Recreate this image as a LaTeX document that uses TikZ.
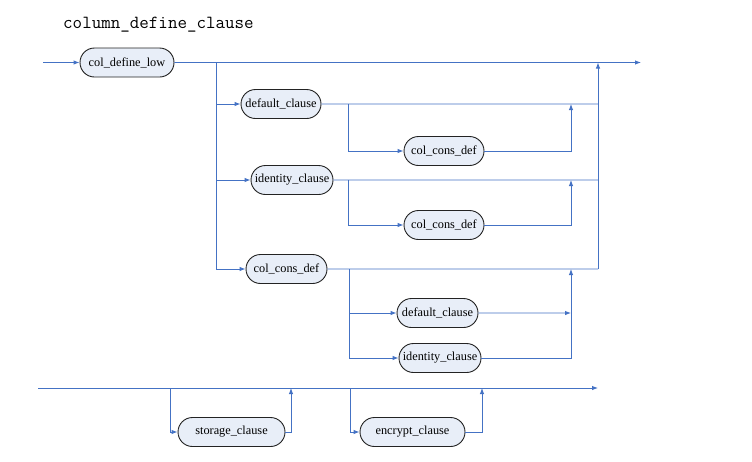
\documentclass[tikz,border=0pt]{standalone}
\usepackage{fontspec}
\setmainfont{Liberation Serif}
\usepackage{tikz}
\usetikzlibrary{shapes.misc,arrows.meta,positioning}
\definecolor{railBlue}{RGB}{68,114,196}
\definecolor{railFill}{RGB}{232,238,248}
\definecolor{railEdge}{RGB}{35,35,35}

\tikzset{
  term/.style={rounded rectangle, draw=railEdge, fill=railFill, line width=0.9pt,
    minimum height=29pt, inner xsep=4pt, font=\fontsize{12.3}{14}\selectfont},
  rail/.style={draw=railBlue, line width=0.9pt},
  tip/.style={-{Latex[length=6pt,width=4.5pt]}}
}

\begin{document}
\begin{tikzpicture}[x=1pt,y=-1pt]
\useasboundingbox (0,0) rectangle (752,461);
\node[font=\ttfamily\fontsize{18.5}{20}\selectfont, anchor=base west, inner sep=0pt] (title) at (63,28) {column\_define\_clause};

% first rail
\node[term, minimum width=102pt] (low) at (127,62.5) {col\_define\_low};
\node[term, minimum width=88pt] (dflt) at (281,104) {default\_clause};
\node[term, minimum width=88pt] (dcons) at (444,151) {col\_cons\_def};
\node[term, minimum width=90pt] (ident) at (292,180) {identity\_clause};
\node[term, minimum width=88pt] (icons) at (444,225) {col\_cons\_def};
\node[term, minimum width=89pt] (cons) at (286.5,269) {col\_cons\_def};
\node[term, minimum width=89pt] (cdflt) at (437.5,313) {default\_clause};
\node[term, minimum width=90pt] (cident) at (440,358) {identity\_clause};

\coordinate (in) at (43,62.5);
\coordinate (out) at (641,62.5);
\coordinate (b1) at (216,62.5);
\coordinate (r1) at (598,62.5);
\draw[rail,tip] (in) -- (low);
\draw[rail,tip] (low) -- (out);
\draw[rail] (b1) -- (b1 |- cons);
\draw[rail,tip] (b1 |- dflt) -- (dflt);
\draw[rail,tip] (b1 |- ident) -- (ident);
\draw[rail,tip] (b1 |- cons) -- (cons);
\draw[rail] (dflt) -- (r1 |- dflt);
\draw[rail] (ident) -- (r1 |- ident);
\draw[rail] (cons) -- (r1 |- cons);
\draw[rail,tip] (r1 |- cons) -- (r1);

% optional col_cons_def after default / identity
\coordinate (b2) at (348,104);
\coordinate (r2) at (571,104);
\draw[rail,tip] (b2) |- (dcons);
\draw[rail,tip] (dcons) -| (r2);
\coordinate (b3) at (348,180);
\coordinate (r3) at (571,180);
\draw[rail,tip] (b3) |- (icons);
\draw[rail,tip] (icons) -| (r3);

% choices after col_cons_def
\coordinate (b4) at (349,269);
\coordinate (r4) at (571,269);
\draw[rail,tip] (b4) |- (cdflt);
\draw[rail,tip] (b4) |- (cident);
\draw[rail,tip] (cdflt) -- (r4 |- cdflt);
\draw[rail,tip] (cident) -| (r4);

% second rail
\node[term, minimum width=115pt] (stor) at (231.5,432) {storage\_clause};
\node[term, minimum width=113pt] (encr) at (412.5,432) {encrypt\_clause};
\coordinate (in2) at (38,388);
\coordinate (out2) at (598,388);
\coordinate (b5) at (170,388);
\coordinate (r5) at (291,388);
\coordinate (b6) at (350,388);
\coordinate (r6) at (482,388);
\draw[rail,tip] (in2) -- (out2);
\draw[rail,tip] (b5) |- (stor);
\draw[rail,tip] (stor) -| (r5);
\draw[rail,tip] (b6) |- (encr);
\draw[rail,tip] (encr) -| (r6);
\end{tikzpicture}
\end{document}
